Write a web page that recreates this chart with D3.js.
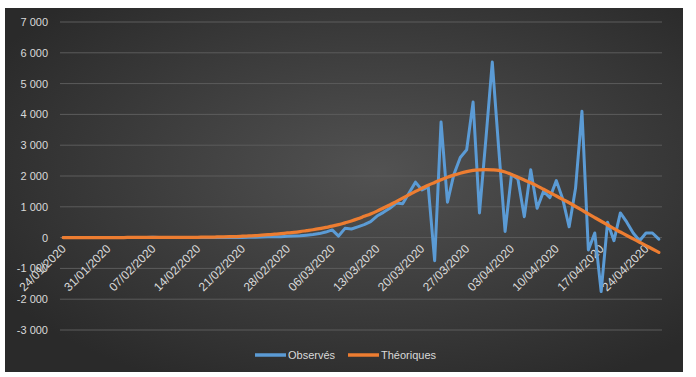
<!DOCTYPE html>
<html>
<head>
<meta charset="utf-8">
<script src="https://cdn.jsdelivr.net/npm/d3@7"></script>
<style>
  body { margin: 0; background: #fff; }
  text { font-family: "Liberation Sans", Arial, sans-serif; }
</style>
</head>
<body>
<div id="chart"></div>
<script>
// Categories: one point per day, 24/01/2020 -> 26/04/2020
const startDate = new Date(2020, 0, 24);
const endDate = new Date(2020, 3, 27);

const observed = [
  0, 0, 0, 0, 0, 0, 0, 0, 0, 0,
  0, 0, 0, 0, 10, 0, 0, 0, 0, 0,
  0, 0, 0, 0, 0, 0, 0, 0, 5, 10,
  15, 20, 25, 30, 30, 40, 50, 60, 80, 100,
  130, 180, 250, 50, 300, 280, 350, 420, 520, 700,
  820, 950, 1120, 1100, 1450, 1800, 1550, 1650, -750, 3750,
  1150, 2050, 2600, 2850, 4400, 800, 3200, 5700, 2900, 200,
  2050, 1900, 680, 2200, 950, 1500, 1300, 1850, 1250, 350,
  1600, 4100, -400, 150, -1750, 500, -100, 800, 500, 150,
  -100, 150, 150, -50
];

// Theoretical curve values
const theoretical = [
  0, 0, 0, 0, 0, 0, 0, 0, 0, 0,
  5, 5, 5, 5, 5, 5, 5, 5, 5, 5,
  10, 10, 15, 15, 20, 25, 30, 35, 45, 55,
  65, 80, 95, 110, 130, 150, 170, 195, 225, 255,
  290, 330, 370, 420, 480, 540, 610, 690, 770, 860,
  960, 1060, 1170, 1280, 1390, 1500, 1600, 1700, 1790, 1880,
  1960, 2030, 2090, 2140, 2180, 2200, 2210, 2200, 2180, 2130,
  2050, 1960, 1870, 1780, 1680, 1570, 1460, 1350, 1240, 1130,
  1010, 890, 770, 650, 530, 410, 290, 180, 70, -40,
  -150, -260, -370, -480
];

const yTicks = [-3000, -2000, -1000, 0, 1000, 2000, 3000, 4000, 5000, 6000, 7000];
const seriesNames = ['Observés', 'Théoriques'];
const seriesColors = ['#5b9bd5', '#ed7d31'];

const W = 696, H = 377;
const PANEL = { x: 5, y: 8, w: 678, h: 364 };
const PLOT = { l: 60, r: 662, t: 22, b: 330 };

const fmtDate = d3.timeFormat('%d/%m/%Y');
const days = d3.timeDay.range(startDate, endDate);
const cats = days.map(fmtDate);

const svg = d3.select('#chart').append('svg')
  .attr('width', W).attr('height', H);

// Background gradient (dark radial, like the Excel style)
const defs = svg.append('defs');
const grad = defs.append('radialGradient')
  .attr('id', 'bg')
  .attr('cx', '55%').attr('cy', '45%').attr('r', '65%');
grad.append('stop').attr('offset', '0%').attr('stop-color', '#525252');
grad.append('stop').attr('offset', '100%').attr('stop-color', '#2a2a2a');

svg.append('rect')
  .attr('x', PANEL.x).attr('y', PANEL.y)
  .attr('width', PANEL.w).attr('height', PANEL.h)
  .attr('fill', 'url(#bg)');

// Scales
const x = d3.scalePoint().domain(cats).range([PLOT.l, PLOT.r]).padding(0.5);
const y = d3.scaleLinear().domain([-3000, 7000]).range([PLOT.b, PLOT.t]);

const fmtNum = v => {
  const s = d3.format(',')(Math.abs(v)).replace(/,/g, ' ');
  return (v < 0 ? '-' : '') + s;
};

// Gridlines
svg.append('g').selectAll('line').data(yTicks).enter().append('line')
  .attr('x1', PLOT.l).attr('x2', PLOT.r)
  .attr('y1', d => y(d)).attr('y2', d => y(d))
  .attr('stroke', '#5c5c5c')
  .attr('stroke-width', 1);

// Y axis labels
const yAxis = svg.append('g')
  .attr('transform', `translate(${PLOT.l - 12},0)`)
  .call(d3.axisLeft(y).tickValues(yTicks).tickSize(0).tickPadding(0).tickFormat(fmtNum));
yAxis.select('.domain').remove();
yAxis.selectAll('text')
  .attr('fill', '#d9d9d9')
  .attr('font-size', 11)
  .attr('font-family', '"Liberation Sans", Arial, sans-serif');

// X axis labels (weekly), rotated, crossing at 0
const xTickVals = cats.filter((d, i) => i % 7 === 0);
const xAxis = svg.append('g')
  .attr('transform', `translate(0,${y(0)})`)
  .call(d3.axisBottom(x).tickValues(xTickVals).tickSize(0));
xAxis.select('.domain').remove();
xAxis.selectAll('text')
  .attr('x', 0).attr('y', 0).attr('dy', 0)
  .attr('transform', 'translate(3,12) rotate(-45)')
  .attr('text-anchor', 'end')
  .attr('fill', '#d9d9d9')
  .attr('font-size', 12)
  .attr('font-family', '"Liberation Sans", Arial, sans-serif');

// Lines
const lineObs = d3.line()
  .x((d, i) => x(cats[i]))
  .y(d => y(d));
const lineTheo = d3.line()
  .x((d, i) => x(cats[i]))
  .y(d => y(d))
  .curve(d3.curveMonotoneX);

svg.append('path')
  .datum(observed)
  .attr('d', lineObs)
  .attr('fill', 'none')
  .attr('stroke', seriesColors[0])
  .attr('stroke-width', 3)
  .attr('stroke-linejoin', 'round')
  .attr('stroke-linecap', 'round');

svg.append('path')
  .datum(theoretical)
  .attr('d', lineTheo)
  .attr('fill', 'none')
  .attr('stroke', seriesColors[1])
  .attr('stroke-width', 3.25)
  .attr('stroke-linejoin', 'round')
  .attr('stroke-linecap', 'round');

// Legend
const legendY = 355;
const legendX = [255, 348];
const legend = svg.append('g');
seriesNames.forEach((name, i) => {
  legend.append('line')
    .attr('x1', legendX[i]).attr('x2', legendX[i] + 31)
    .attr('y1', legendY).attr('y2', legendY)
    .attr('stroke', seriesColors[i])
    .attr('stroke-width', 3.5);
  legend.append('text')
    .attr('x', legendX[i] + 33).attr('y', legendY)
    .attr('dy', '0.35em')
    .attr('fill', '#d9d9d9')
    .attr('font-size', 11)
    .text(name);
});
</script>
</body>
</html>
